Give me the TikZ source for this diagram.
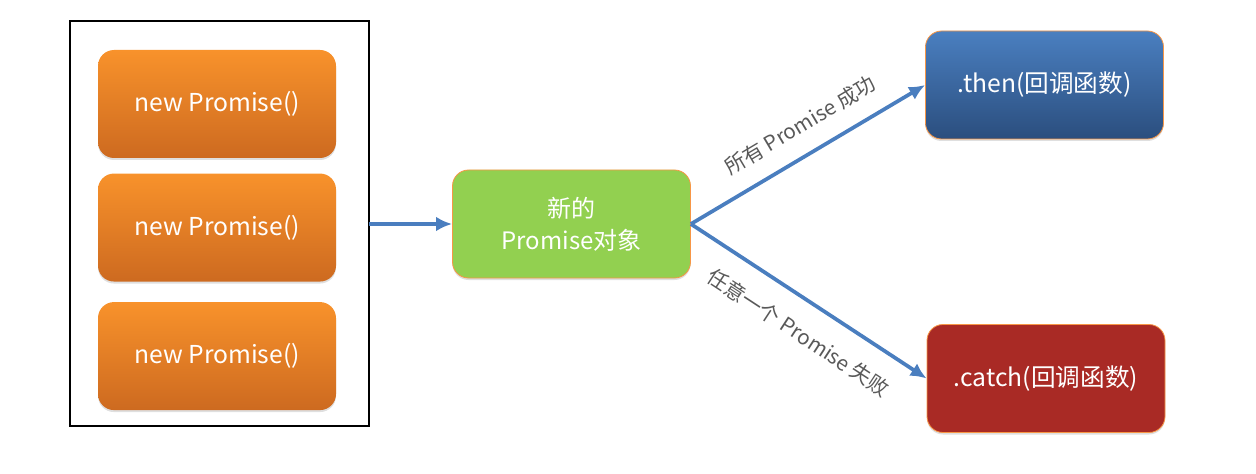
\documentclass[tikz,border=0pt]{standalone}
\usepackage{fontspec}
\setmainfont{Noto Sans CJK SC}
\usepackage{tikz}
\usetikzlibrary{positioning,arrows.meta,shadows}

\definecolor{orangetop}{HTML}{F8922B}
\definecolor{orangebot}{HTML}{CD6A20}
\definecolor{bluetop}{HTML}{4A7FC0}
\definecolor{bluebot}{HTML}{2B4E7E}
\definecolor{catchred}{HTML}{A92A25}
\definecolor{okgreen}{HTML}{92D050}
\definecolor{rimorange}{HTML}{F79646}
\definecolor{arrowblue}{HTML}{4A7EBF}
\definecolor{labelgray}{HTML}{595959}

\begin{document}
\begin{tikzpicture}[
  x=0.75pt, y=-0.75pt,
  node distance=11.25pt and 62pt,
  card/.style={rounded corners=12pt, minimum width=178.5pt, minimum height=81pt,
    align=center, text=white, font=\fontsize{18.5pt}{22pt}\selectfont,
    drop shadow={shadow xshift=0pt, shadow yshift=-1.5pt, opacity=0.25}},
  newbox/.style={card, top color=orangetop, bottom color=orangebot},
  thenbox/.style={card, draw=rimorange, line width=0.6pt, top color=bluetop, bottom color=bluebot},
  catchbox/.style={card, draw=rimorange, line width=0.6pt, fill=catchred},
  newobj/.style={card, draw=rimorange, line width=0.6pt, fill=okgreen, font=\fontsize{18pt}{24pt}\selectfont},
  lbl/.style={text=labelgray, font=\fontsize{15.5pt}{18pt}\selectfont, sloped},
  ar/.style={draw=arrowblue, line width=2.8pt, -{Latex[length=12pt, width=11pt]}}]

  \useasboundingbox (0,0) rectangle (1256,474);

  \node[newbox] (p1) at (217,104) {new Promise()};
  \node[newbox, below=of p1] (p2) {new Promise()};
  \node[newbox, below=15pt of p2] (p3) {new Promise()};
  \draw[black, line width=0.8pt] (70,21) rectangle (369,426);
  \coordinate (frame) at (369,224);

  \node[newobj] (all) at (571.5,224) {新的\\Promise对象};
  \node[thenbox] (then) at (1044.5,85) {.then(回调函数)};
  \node[catchbox] (catch) at (1046,378.5) {.catch(回调函数)};

  \draw[ar] (frame) -- (all.west);
  \draw[ar] (all.east) -- (then.west) node[lbl, pos=0.53, above=10pt] {所有 Promise 成功};
  \draw[ar] (all.east) -- (catch.west) node[lbl, pos=0.53, below=12pt] {任意一个 Promise 失败};
\end{tikzpicture}
\end{document}
